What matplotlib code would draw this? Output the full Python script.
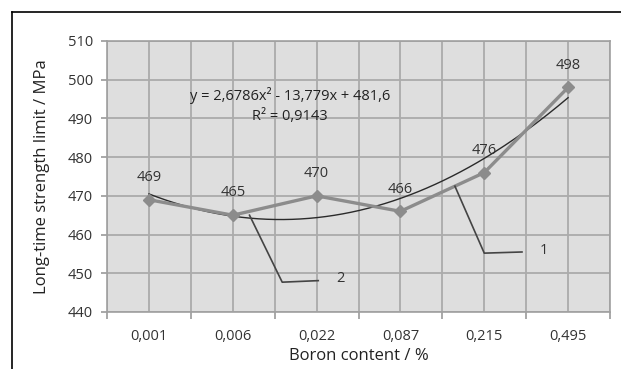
import numpy as np
import matplotlib.pyplot as plt
from matplotlib.lines import Line2D

# data
boron = ['0,001', '0,006', '0,022', '0,087', '0,215', '0,495']
strength = [469, 465, 470, 466, 476, 498]
y_ticks = [440, 450, 460, 470, 480, 490, 500, 510]


def main():
    plt.rcParams['font.family'] = ['Open Sans', 'DejaVu Sans']

    fig = plt.figure(figsize=(6.21, 3.69), dpi=100)
    ax = fig.add_axes([0.1723, 0.1545, 0.810, 0.7344])
    ax.set_facecolor('#dedede')

    x = np.arange(len(boron))

    # polynomial trendline (as Excel does: x = 1..n)
    xn = x + 1
    coef = np.polyfit(xn, strength, 2)
    xs = np.linspace(1, len(boron), 200)
    ax.plot(xs - 1, np.polyval(coef, xs), color='#2a2a2a', lw=1.0, zorder=3)

    ax.plot(x, strength, color='#8c8c8c', lw=2.4, marker='D', ms=6.5,
            mfc='#8c8c8c', mec='#8c8c8c', zorder=4)

    for xi, v in zip(x, strength):
        ax.annotate(str(v), (xi, v), xytext=(0, 16), textcoords='offset points',
                    ha='center', va='center', fontsize=10.5, color='#333333')

    # leader lines with labels
    ax.plot([3.65, 4.0, 4.45], [472.5, 455.2, 455.5], color='#444444', lw=1.2, zorder=5)
    ax.text(4.71, 455.8, '1', fontsize=10.5, ha='center', va='center', color='#333333')
    ax.plot([1.2, 1.59, 2.02], [465.0, 447.7, 448.1], color='#444444', lw=1.2, zorder=5)
    ax.text(2.28, 448.6, '2', fontsize=10.5, ha='center', va='center', color='#333333')

    ax.text(1.68, 495.8, 'y = 2,6786x² - 13,779x + 481,6', fontsize=10.5,
            ha='center', va='center', color='#222222', zorder=6)
    ax.text(1.68, 490.6, 'R² = 0,9143', fontsize=10.5,
            ha='center', va='center', color='#222222', zorder=6)

    ax.set_xlim(-0.5, len(boron) - 0.5)
    ax.set_ylim(440, 510)
    ax.set_yticks(y_ticks)
    ax.set_xticks(np.arange(-0.5, len(boron)), [''] * (len(boron) + 1))
    ax.set_xticks(x, boron, minor=True)
    ax.tick_params(axis='x', which='minor', length=0, pad=12, labelsize=10.5,
                   labelcolor='#333333')
    ax.tick_params(axis='x', which='major', length=5, color='#999999', width=1.2)
    ax.tick_params(axis='y', length=4, color='#999999', width=1.2, labelsize=10.5,
                   labelcolor='#333333', pad=6)

    ax.grid(True, which='both', color='#ababab', lw=1.3)
    ax.set_axisbelow(True)
    for s in ax.spines.values():
        s.set_color('#a0a0a0')
        s.set_linewidth(1.2)

    ax.set_xlabel('Boron content / %', fontsize=12, color='#222222', labelpad=3)
    ax.set_ylabel('Long-time strength limit / MPa', fontsize=12, color='#222222',
                  labelpad=13)

    # outer frame (top and left edges)
    fig.add_artist(Line2D([12 / 621, 1], [1 - 12 / 369] * 2, color='black', lw=1.2))
    fig.add_artist(Line2D([12 / 621] * 2, [0, 1 - 12 / 369], color='black', lw=1.2))

    plt.savefig('out.png', dpi=100)


if __name__ == '__main__':
    main()
